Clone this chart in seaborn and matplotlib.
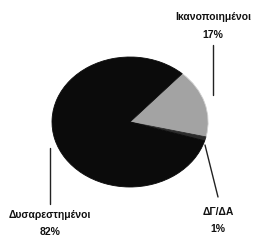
import matplotlib
matplotlib.use("Agg")
import matplotlib.pyplot as plt
import seaborn as sns

# Data
labels = ["Ικανοποιημένοι", "ΔΓ/ΔΑ", "Δυσαρεστημένοι"]
values = [17, 1, 82]
pct_labels = ["17%", "1%", "82%"]
colors = ["#a3a3a3", "#2b2b2b", "#0b0b0b"]

sns.set_theme(style="white")
plt.rcParams['font.family'] = ['Liberation Sans', 'DejaVu Sans']

W, H = 255, 243
S = 65 / 78  # vertical squash (tilted pie look)

fig = plt.figure(figsize=(W / 100, H / 100), dpi=100)
ax = fig.add_axes([0, 0, 1, 1])


def P(x, y):
    """image pixel -> data coordinates"""
    return (x, (H - y) / S)


cx, cy = P(130, 122)
wedges, _ = ax.pie(values, colors=colors, startangle=48, counterclock=False,
                   explode=[0.1, 0.0, 0.0], radius=78, center=(cx, cy),
                   frame=True, wedgeprops=dict(linewidth=0.6, edgecolor="#d0d0d0"))
wedges[2].set_edgecolor("#0b0b0b")
wedges[1].set_edgecolor("#2b2b2b")
ax.set_xlim(0, W)
ax.set_ylim(0, H / S)
ax.set_aspect('auto')
ax.axis('off')

# leader lines
leaders = [((213, 95), (213, 45)), ((205, 145), (218, 197)), ((50, 148), (50, 204))]
for (a, b) in leaders:
    x0, y0 = P(*a)
    x1, y1 = P(*b)
    ax.plot([x0, x1], [y0, y1], color="#222222", lw=1.0)

label_pos = [(213, 17, 35), (218, 212, 229), (50, 215, 232)]
for lab, pct, (x, y1, y2) in zip(labels, pct_labels, label_pos):
    ax.text(*P(x, y1), lab, ha='center', va='center', fontsize=7.5, fontweight='bold', color='#111111')
    ax.text(*P(x, y2), pct, ha='center', va='center', fontsize=7.5, fontweight='bold', color='#111111')

fig.savefig("out.png", dpi=100)
